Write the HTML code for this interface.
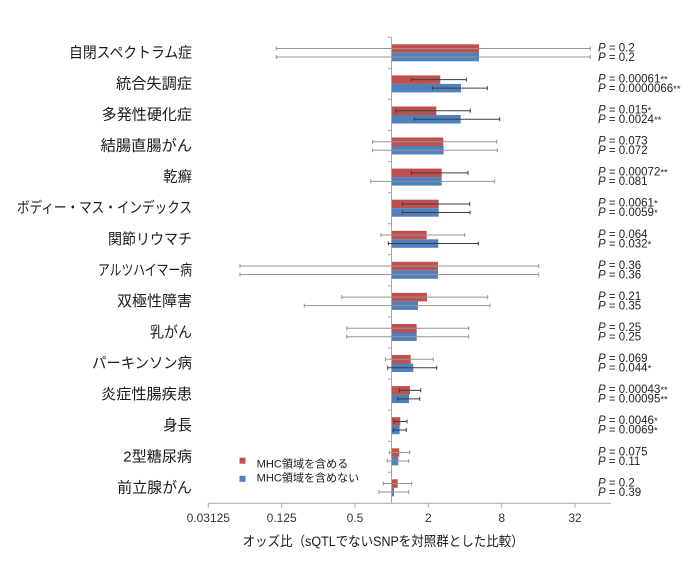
<!DOCTYPE html>
<html><head><meta charset="utf-8"><style>
html,body{margin:0;padding:0;background:#fff;}
svg{display:block;}
.jp{font-family:"Liberation Sans","Noto Sans CJK JP",sans-serif;fill:#1a1a1a;}
.p{font-family:"Liberation Sans",sans-serif;font-size:11.5px;fill:#222;}
.s{font-size:9.5px;}
.tk{font-family:"Liberation Sans",sans-serif;font-size:12px;fill:#333;}
.r{fill:#C0504D;}
.b{fill:#4F81BD;}
.g{stroke:#959595;stroke-width:1;fill:none;}
.d{stroke:#3d3d3d;stroke-width:1;fill:none;}
</style></head><body>
<svg width="700" height="561" viewBox="0 0 700 561" xmlns="http://www.w3.org/2000/svg">
<rect width="700" height="561" fill="#fff"/>

<!-- bars -->
<g>
<rect class="r" x="391.67" y="44.3" width="87.3" height="8.5"/><rect class="b" x="391.67" y="52.8" width="87.3" height="8.5"/>
<rect class="r" x="391.67" y="75.4" width="48.6" height="8.5"/><rect class="b" x="391.67" y="83.9" width="69.3" height="8.5"/>
<rect class="r" x="391.67" y="106.5" width="44.6" height="8.5"/><rect class="b" x="391.67" y="115.0" width="69" height="8.5"/>
<rect class="r" x="391.67" y="137.5" width="51.6" height="8.5"/><rect class="b" x="391.67" y="146.0" width="52" height="8.5"/>
<rect class="r" x="391.67" y="168.6" width="50" height="8.5"/><rect class="b" x="391.67" y="177.1" width="50" height="8.5"/>
<rect class="r" x="391.67" y="199.7" width="47" height="8.5"/><rect class="b" x="391.67" y="208.2" width="47" height="8.5"/>
<rect class="r" x="391.67" y="230.8" width="35" height="8.5"/><rect class="b" x="391.67" y="239.3" width="46.6" height="8.5"/>
<rect class="r" x="391.67" y="261.8" width="46.3" height="8.5"/><rect class="b" x="391.67" y="270.3" width="46.3" height="8.5"/>
<rect class="r" x="391.67" y="292.9" width="35.3" height="8.5"/><rect class="b" x="391.67" y="301.4" width="26.3" height="8.5"/>
<rect class="r" x="391.67" y="324.0" width="25" height="8.5"/><rect class="b" x="391.67" y="332.5" width="25" height="8.5"/>
<rect class="r" x="391.67" y="355.0" width="19" height="8.5"/><rect class="b" x="391.67" y="363.5" width="21.6" height="8.5"/>
<rect class="r" x="391.67" y="386.1" width="18.3" height="8.5"/><rect class="b" x="391.67" y="394.6" width="17.3" height="8.5"/>
<rect class="r" x="391.67" y="417.2" width="8.6" height="8.5"/><rect class="b" x="391.67" y="425.7" width="8" height="8.5"/>
<rect class="r" x="391.67" y="448.3" width="7.6" height="8.5"/><rect class="b" x="391.67" y="456.8" width="6.6" height="8.5"/>
<rect class="r" x="391.67" y="479.3" width="6" height="8.5"/><rect class="b" x="391.67" y="487.8" width="2.3" height="8.5"/>
</g>

<!-- vertical axis -->
<g stroke="#a6a6a6" stroke-width="1" fill="none">
<path d="M391.5 37.3 V503.3"/>
<path d="M388 37.3H391.5M388 68.4H391.5M388 99.4H391.5M388 130.5H391.5M388 161.6H391.5M388 192.7H391.5M388 223.7H391.5M388 254.8H391.5M388 285.9H391.5M388 316.9H391.5M388 348H391.5M388 379.1H391.5M388 410.1H391.5M388 441.2H391.5M388 472.3H391.5"/>
</g>

<!-- error bars -->
<g>
<path class="g" d="M276.3 48.55H590.3M276.3 46.55V50.55M590.3 46.55V50.55"/>
<path class="g" d="M276.3 57.05H590.3M276.3 55.05V59.05M590.3 55.05V59.05"/>
<path class="d" d="M411.3 79.65H466.3M411.3 77.65V81.65M466.3 77.65V81.65"/>
<path class="d" d="M432.3 88.15H487.3M432.3 86.15V90.15M487.3 86.15V90.15"/>
<path class="d" d="M396 110.75H470.3M396 108.75V112.75M470.3 108.75V112.75"/>
<path class="d" d="M414.3 119.25H499.7M414.3 117.25V121.25M499.7 117.25V121.25"/>
<path class="g" d="M372.7 141.75H496.7M372.7 139.75V143.75M496.7 139.75V143.75"/>
<path class="g" d="M372.7 150.25H497.3M372.7 148.25V152.25M497.3 148.25V152.25"/>
<path class="d" d="M411.3 172.85H468M411.3 170.85V174.85M468 170.85V174.85"/>
<path class="g" d="M370.7 181.35H494.7M370.7 179.35V183.35M494.7 179.35V183.35"/>
<path class="d" d="M402.3 203.95H469.7M402.3 201.95V205.95M469.7 201.95V205.95"/>
<path class="d" d="M402.3 212.45H470M402.3 210.45V214.45M470 210.45V214.45"/>
<path class="g" d="M381 235.05H464.7M381 233.05V237.05M464.7 233.05V237.05"/>
<path class="d" d="M388.3 243.55H478.3M388.3 241.55V245.55M478.3 241.55V245.55"/>
<path class="g" d="M240 266.05H538.7M240 264.05V268.05M538.7 264.05V268.05"/>
<path class="g" d="M240 274.55H538.7M240 272.55V276.55M538.7 272.55V276.55"/>
<path class="g" d="M341.7 297.15H487.7M341.7 295.15V299.15M487.7 295.15V299.15"/>
<path class="g" d="M304.3 305.65H490M304.3 303.65V307.65M490 303.65V307.65"/>
<path class="g" d="M346.7 328.25H468.7M346.7 326.25V330.25M468.7 326.25V330.25"/>
<path class="g" d="M346.7 336.75H468.7M346.7 334.75V338.75M468.7 334.75V338.75"/>
<path class="g" d="M385.3 359.25H433.3M385.3 357.25V361.25M433.3 357.25V361.25"/>
<path class="d" d="M387.7 367.75H436.7M387.7 365.75V369.75M436.7 365.75V369.75"/>
<path class="d" d="M399.3 390.35H420.7M399.3 388.35V392.35M420.7 388.35V392.35"/>
<path class="d" d="M397.7 398.85H419.7M397.7 396.85V400.85M419.7 396.85V400.85"/>
<path class="d" d="M394 421.45H407M394 419.45V423.45M407 419.45V423.45"/>
<path class="d" d="M393.3 429.95H406.3M393.3 427.95V431.95M406.3 427.95V431.95"/>
<path class="g" d="M389.3 452.55H409.7M389.3 450.55V454.55M409.7 450.55V454.55"/>
<path class="g" d="M387.3 461.05H408.7M387.3 459.05V463.05M408.7 459.05V463.05"/>
<path class="g" d="M383.3 483.55H411.7M383.3 481.55V485.55M411.7 481.55V485.55"/>
<path class="g" d="M379 492.05H408.7M379 490.05V494.05M408.7 490.05V494.05"/>
</g>

<!-- horizontal axis -->
<g stroke="#a6a6a6" stroke-width="1" fill="none">
<path d="M208 503.3H611"/>
<path d="M208.3 503.3V507.5M281.7 503.3V507.5M355 503.3V507.5M428.3 503.3V507.5M501.7 503.3V507.5M575 503.3V507.5"/>
</g>
<g class="tk" text-anchor="middle" dominant-baseline="central">
<text x="208.3" y="518">0.03125</text>
<text x="281.7" y="518">0.125</text>
<text x="355" y="518">0.5</text>
<text x="428.3" y="518">2</text>
<text x="501.7" y="518">8</text>
<text x="575" y="518">32</text>
</g>
<text class="jp" x="242.7" y="541.7" font-size="13.5" dominant-baseline="central" textLength="281" lengthAdjust="spacingAndGlyphs">オッズ比（sQTLでないSNPを対照群とした比較）</text>

<!-- category labels -->
<g class="jp" font-size="15" dominant-baseline="central">
<text x="69" y="52.8" textLength="123" lengthAdjust="spacingAndGlyphs">自閉スペクトラム症</text>
<text x="116" y="83.9" textLength="76" lengthAdjust="spacingAndGlyphs">統合失調症</text>
<text x="101.7" y="115.0" textLength="90.3" lengthAdjust="spacingAndGlyphs">多発性硬化症</text>
<text x="100.7" y="146.0" textLength="91.3" lengthAdjust="spacingAndGlyphs">結腸直腸がん</text>
<text x="163.3" y="177.1" textLength="28.7" lengthAdjust="spacingAndGlyphs">乾癬</text>
<text x="17" y="208.2" textLength="175" lengthAdjust="spacingAndGlyphs">ボディー・マス・インデックス</text>
<text x="108" y="239.3" textLength="84" lengthAdjust="spacingAndGlyphs">関節リウマチ</text>
<text x="98" y="270.3" textLength="94" lengthAdjust="spacingAndGlyphs">アルツハイマー病</text>
<text x="117" y="301.4" textLength="75" lengthAdjust="spacingAndGlyphs">双極性障害</text>
<text x="150" y="332.5" textLength="42" lengthAdjust="spacingAndGlyphs">乳がん</text>
<text x="92" y="363.5" textLength="100" lengthAdjust="spacingAndGlyphs">パーキンソン病</text>
<text x="101" y="394.6" textLength="91" lengthAdjust="spacingAndGlyphs">炎症性腸疾患</text>
<text x="163.3" y="425.7" textLength="28.7" lengthAdjust="spacingAndGlyphs">身長</text>
<text x="123.3" y="456.8" textLength="68.7" lengthAdjust="spacingAndGlyphs">2型糖尿病</text>
<text x="117.3" y="487.8" textLength="74.7" lengthAdjust="spacingAndGlyphs">前立腺がん</text>
</g>

<!-- p values -->
<g class="p" dominant-baseline="central">
<text x="598" y="48.3"><tspan font-style="italic">P</tspan> = 0.2</text>
<text x="598" y="57.8"><tspan font-style="italic">P</tspan> = 0.2</text>
<text x="598" y="79.4"><tspan font-style="italic">P</tspan> = 0.00061<tspan class="s">**</tspan></text>
<text x="598" y="88.9"><tspan font-style="italic">P</tspan> = 0.0000066<tspan class="s">**</tspan></text>
<text x="598" y="110.5"><tspan font-style="italic">P</tspan> = 0.015<tspan class="s">*</tspan></text>
<text x="598" y="120.0"><tspan font-style="italic">P</tspan> = 0.0024<tspan class="s">**</tspan></text>
<text x="598" y="141.5"><tspan font-style="italic">P</tspan> = 0.073</text>
<text x="598" y="151.0"><tspan font-style="italic">P</tspan> = 0.072</text>
<text x="598" y="172.6"><tspan font-style="italic">P</tspan> = 0.00072<tspan class="s">**</tspan></text>
<text x="598" y="182.1"><tspan font-style="italic">P</tspan> = 0.081</text>
<text x="598" y="203.7"><tspan font-style="italic">P</tspan> = 0.0061<tspan class="s">*</tspan></text>
<text x="598" y="213.2"><tspan font-style="italic">P</tspan> = 0.0059<tspan class="s">*</tspan></text>
<text x="598" y="234.8"><tspan font-style="italic">P</tspan> = 0.064</text>
<text x="598" y="244.3"><tspan font-style="italic">P</tspan> = 0.032<tspan class="s">*</tspan></text>
<text x="598" y="265.8"><tspan font-style="italic">P</tspan> = 0.36</text>
<text x="598" y="275.3"><tspan font-style="italic">P</tspan> = 0.36</text>
<text x="598" y="296.9"><tspan font-style="italic">P</tspan> = 0.21</text>
<text x="598" y="306.4"><tspan font-style="italic">P</tspan> = 0.35</text>
<text x="598" y="328.0"><tspan font-style="italic">P</tspan> = 0.25</text>
<text x="598" y="337.5"><tspan font-style="italic">P</tspan> = 0.25</text>
<text x="598" y="359.0"><tspan font-style="italic">P</tspan> = 0.069</text>
<text x="598" y="368.5"><tspan font-style="italic">P</tspan> = 0.044<tspan class="s">*</tspan></text>
<text x="598" y="390.1"><tspan font-style="italic">P</tspan> = 0.00043<tspan class="s">**</tspan></text>
<text x="598" y="399.6"><tspan font-style="italic">P</tspan> = 0.00095<tspan class="s">**</tspan></text>
<text x="598" y="421.2"><tspan font-style="italic">P</tspan> = 0.0046<tspan class="s">*</tspan></text>
<text x="598" y="430.7"><tspan font-style="italic">P</tspan> = 0.0069<tspan class="s">*</tspan></text>
<text x="598" y="452.3"><tspan font-style="italic">P</tspan> = 0.075</text>
<text x="598" y="461.8"><tspan font-style="italic">P</tspan> = 0.11</text>
<text x="598" y="483.3"><tspan font-style="italic">P</tspan> = 0.2</text>
<text x="598" y="492.8"><tspan font-style="italic">P</tspan> = 0.39</text>
</g>

<!-- legend -->
<rect class="r" x="239.5" y="457.7" width="6" height="6"/>
<rect class="b" x="239.5" y="475.8" width="6" height="6"/>
<g class="jp" font-size="11" dominant-baseline="central">
<text x="256.7" y="464.3" textLength="91.6" lengthAdjust="spacingAndGlyphs">MHC領域を含める</text>
<text x="256.7" y="478.6" textLength="102.5" lengthAdjust="spacingAndGlyphs">MHC領域を含めない</text>
</g>
</svg>
</body></html>
